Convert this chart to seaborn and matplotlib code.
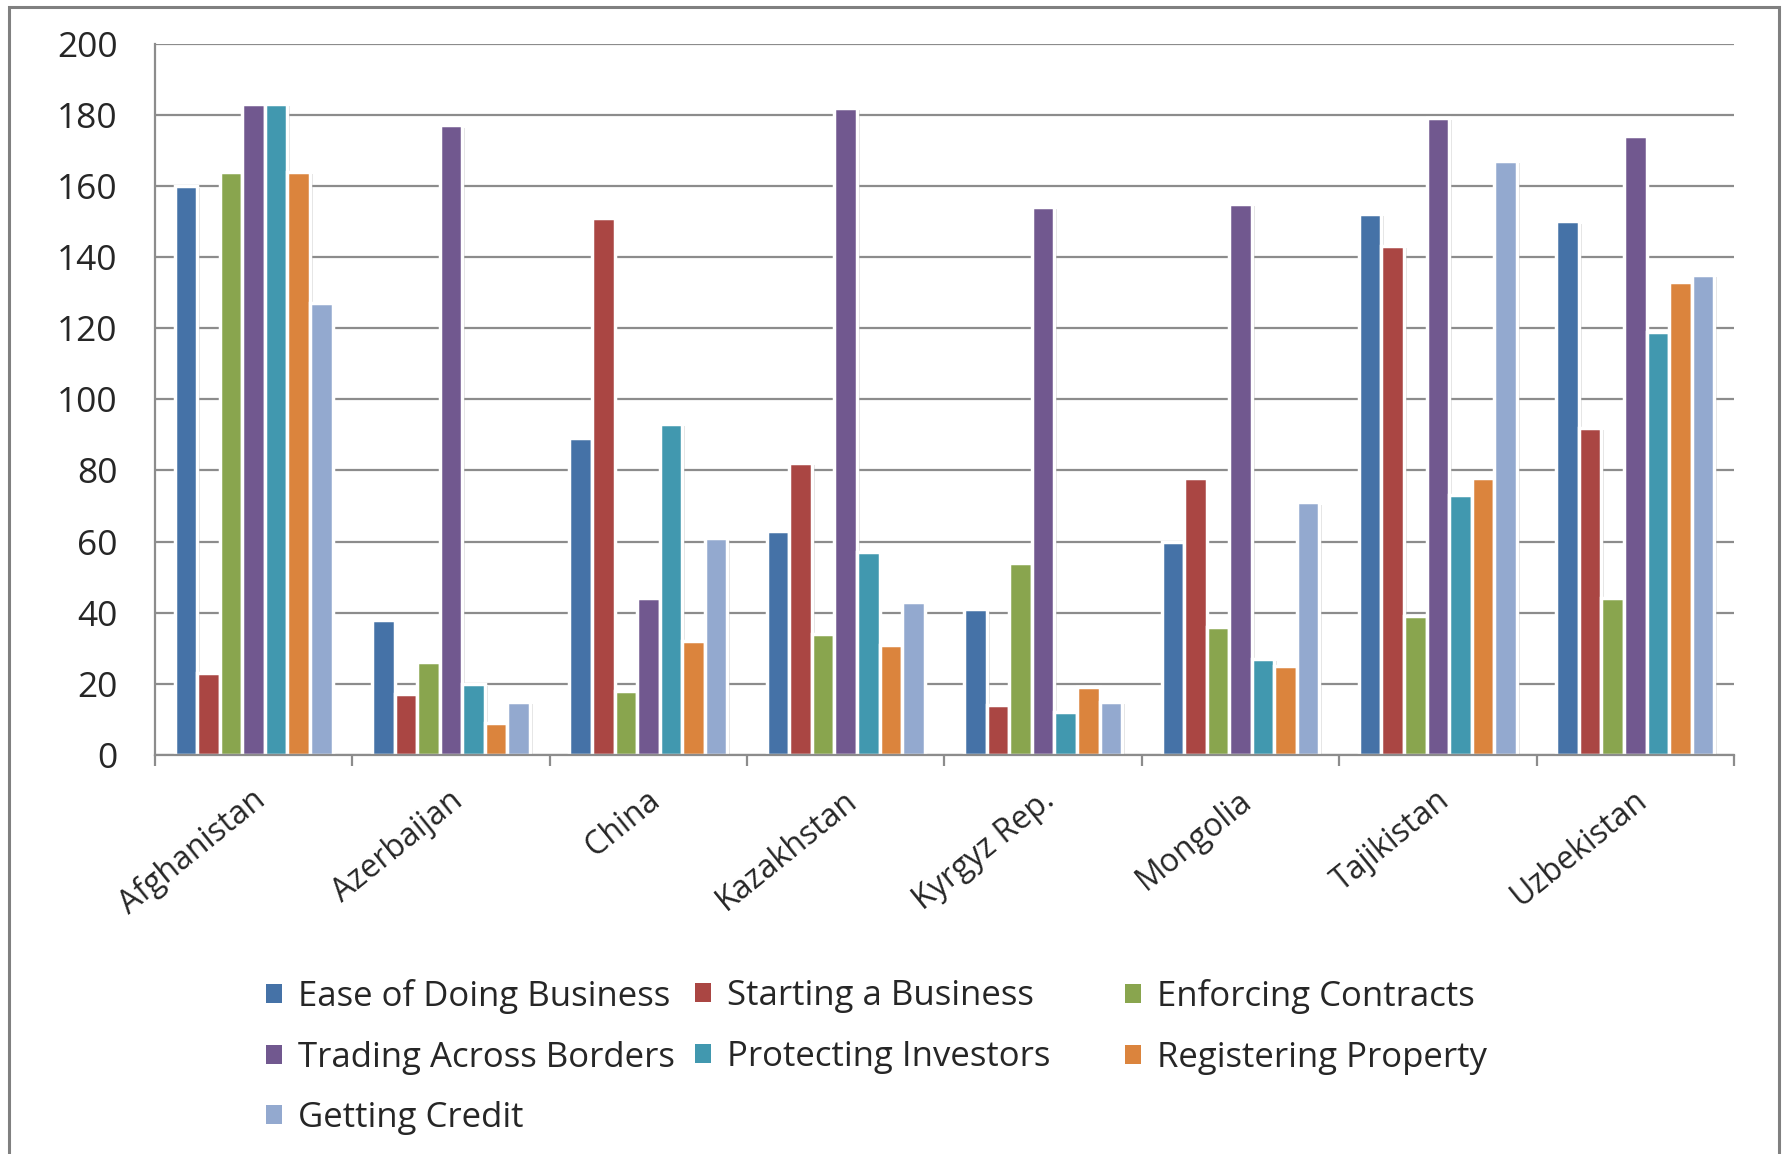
import matplotlib
matplotlib.use("Agg")
import matplotlib.pyplot as plt
import matplotlib.patches as mpatches
import matplotlib.patheffects as pe
from matplotlib.transforms import ScaledTranslation
import seaborn as sns
import pandas as pd

countries = ["Afghanistan", "Azerbaijan", "China", "Kazakhstan",
             "Kyrgyz Rep.", "Mongolia", "Tajikistan", "Uzbekistan"]
indicators = ["Ease of Doing Business", "Starting a Business", "Enforcing Contracts",
              "Trading Across Borders", "Protecting Investors", "Registering Property",
              "Getting Credit"]

ease_of_doing_business = [160, 38, 89, 63, 41, 60, 152, 150]
starting_a_business = [23, 17, 151, 82, 14, 78, 143, 92]
enforcing_contracts = [164, 26, 18, 34, 54, 36, 39, 44]
trading_across_borders = [183, 177, 44, 182, 154, 155, 179, 174]
protecting_investors = [183, 20, 93, 57, 12, 27, 73, 119]
registering_property = [164, 9, 32, 31, 19, 25, 78, 133]
getting_credit = [127, 15, 61, 43, 15, 71, 167, 135]

series = [ease_of_doing_business, starting_a_business, enforcing_contracts,
          trading_across_borders, protecting_investors, registering_property,
          getting_credit]

colors = ["#4572A7", "#AA4643", "#89A54E", "#71588F", "#4198AF", "#DB843D", "#93A9CF"]

rows = []
for ind, vals in zip(indicators, series):
    for c, v in zip(countries, vals):
        rows.append({"country": c, "indicator": ind, "value": v})
df = pd.DataFrame(rows)

sns.set_theme(style="white")
plt.rcParams["font.family"] = ["Open Sans", "DejaVu Sans"]
text_color = "#262626"
grid_color = "#8c8c8c"

fig = plt.figure(figsize=(17.85, 11.54), dpi=100)
fig.patch.set_facecolor("white")

ax = fig.add_axes([0.0868, 0.3458, 0.8846, 0.6164])
sns.barplot(data=df, x="country", y="value", hue="indicator",
            order=countries, hue_order=indicators, palette=colors,
            width=0.8, saturation=1, edgecolor="white", linewidth=2.5,
            ax=ax, legend=True)

for p in ax.patches:
    p.set_path_effects([pe.SimplePatchShadow(offset=(2, -1.5), shadow_rgbFace="#808080", alpha=0.25),
                        pe.Normal()])

handles, labels = ax.get_legend_handles_labels()
if ax.get_legend() is not None:
    ax.get_legend().remove()

ax.set_xlim(-0.5, 7.5)
ax.set_ylim(0, 200)
ax.set_yticks(range(0, 201, 20))
ax.yaxis.grid(True, color=grid_color, linewidth=1.6)
ax.xaxis.grid(False)
ax.set_axisbelow(True)
ax.set_xlabel("")
ax.set_ylabel("")

for s in ["top", "right"]:
    ax.spines[s].set_visible(False)
for s in ["left", "bottom"]:
    ax.spines[s].set_color(grid_color)
    ax.spines[s].set_linewidth(1.6)

ax.tick_params(axis="y", which="major", length=9, width=1.6, color=grid_color,
               direction="out", pad=18, labelsize=25.5, labelcolor=text_color)
ax.set_xticks([i + 0.5 for i in range(-1, 8)], minor=True)
ax.tick_params(axis="x", which="minor", length=8, width=1.6, color=grid_color,
               direction="out", bottom=True)
ax.tick_params(axis="x", which="major", length=0, pad=30, labelsize=23,
               labelcolor=text_color)

offset = ScaledTranslation(8 / 100, 0, fig.dpi_scale_trans)
for lab in ax.get_xticklabels():
    lab.set_rotation(39)
    lab.set_ha("right")
    lab.set_va("center")
    lab.set_rotation_mode("anchor")
    lab.set_transform(lab.get_transform() + offset)

# legend: three columns, row-major order
hmap = dict(zip(labels, handles))
col_items = [[indicators[0], indicators[3], indicators[6]],
             [indicators[1], indicators[4]],
             [indicators[2], indicators[5]]]
col_x = [266 / 1785, 695 / 1785, 1125 / 1785]
for xs, items in zip(col_x, col_items):
    hs = [mpatches.Patch(facecolor=hmap[i].get_facecolor(), edgecolor="none") for i in items]
    leg = fig.legend(hs, items, loc="upper left", bbox_to_anchor=(xs, 0.1515),
                     frameon=False, fontsize=25, handlelength=0.46, handleheight=0.46,
                     handletextpad=0.45, labelspacing=0.76, borderpad=0,
                     borderaxespad=0)
    for t in leg.get_texts():
        t.set_color(text_color)

frame = mpatches.Rectangle((9 / 1785, -0.05), (1779 - 9) / 1785, 1 - 7 / 1154 + 0.05,
                           transform=fig.transFigure, fill=False,
                           edgecolor="#808080", linewidth=2.2)
fig.patches.append(frame)

fig.savefig("out.png", dpi=100, facecolor="white")
